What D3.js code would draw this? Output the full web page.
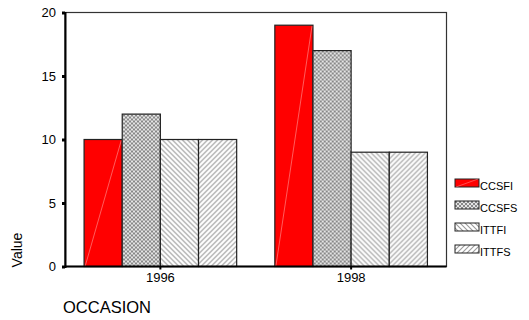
<!DOCTYPE html>
<html>
<head>
<meta charset="utf-8">
<script src="https://cdn.jsdelivr.net/npm/d3@7"></script>
<style>
  body { margin: 0; background: #fff; }
  text { font-family: "Liberation Sans", Arial, sans-serif; fill: #000; }
</style>
</head>
<body>
<svg id="chart" width="529" height="320"></svg>
<script>
const occasions = ['1996', '1998'];
const seriesNames = ['CCSFI', 'CCSFS', 'ITTFI', 'ITTFS'];
const CCSFI = [10, 19];
const CCSFS = [12, 17];
const ITTFI = [10, 9];
const ITTFS = [10, 9];
const yTicks = [0, 5, 10, 15, 20];

const seriesValues = [CCSFI, CCSFS, ITTFI, ITTFS];
const fills = ['#ff0000', 'url(#pCheck)', 'url(#pBack)', 'url(#pFwd)'];

const svg = d3.select('#chart');
const margin = { top: 12.5, left: 65, right: 82.5, bottom: 53.5 };
const W = 529 - margin.left - margin.right;
const H = 320 - margin.top - margin.bottom;

// patterns
const defs = svg.append('defs');
let p = defs.append('pattern').attr('id', 'pCheck')
  .attr('patternUnits', 'userSpaceOnUse').attr('width', 4).attr('height', 4);
p.append('rect').attr('width', 4).attr('height', 4).attr('fill', '#e4e4e4');
p.append('rect').attr('x', 0).attr('y', 0).attr('width', 2).attr('height', 2).attr('fill', '#888');
p.append('rect').attr('x', 2).attr('y', 2).attr('width', 2).attr('height', 2).attr('fill', '#888');

p = defs.append('pattern').attr('id', 'pBack')
  .attr('patternUnits', 'userSpaceOnUse').attr('width', 5).attr('height', 5);
p.append('rect').attr('width', 5).attr('height', 5).attr('fill', '#fff');
p.append('path').attr('d', 'M-1,-1L6,6M-1,4L1,6M4,-1L6,1')
  .attr('stroke', '#9a9a9a').attr('stroke-width', 1.1);

p = defs.append('pattern').attr('id', 'pFwd')
  .attr('patternUnits', 'userSpaceOnUse').attr('width', 5).attr('height', 5);
p.append('rect').attr('width', 5).attr('height', 5).attr('fill', '#fff');
p.append('path').attr('d', 'M-1,6L6,-1M-1,1L1,-1M4,6L6,4')
  .attr('stroke', '#9a9a9a').attr('stroke-width', 1.1);

const g = svg.append('g').attr('transform', 'translate(' + margin.left + ',' + margin.top + ')');

const x0 = d3.scaleBand().domain(occasions).range([0, W]).padding(0);
const x1 = d3.scaleBand().domain(seriesNames).range([0, x0.bandwidth()])
  .paddingInner(0).paddingOuter(0.5);
const y = d3.scaleLinear().domain([0, 20]).range([H, 0]);

// frame
g.append('rect').attr('width', W).attr('height', H)
  .attr('fill', 'none').attr('stroke', '#333').attr('stroke-width', 1.2);

// bars
const groups = g.selectAll('.grp').data(occasions).enter().append('g')
  .attr('transform', d => 'translate(' + x0(d) + ',0)');

groups.each(function (occ, oi) {
  const grp = d3.select(this);
  seriesNames.forEach((s, si) => {
    const v = seriesValues[si][oi];
    grp.append('rect')
      .attr('x', x1(s))
      .attr('y', y(v))
      .attr('width', x1.bandwidth())
      .attr('height', H - y(v))
      .attr('fill', fills[si])
      .attr('stroke', '#222')
      .attr('stroke-width', 1.2);
    if (si === 0) {
      grp.append('line')
        .attr('x1', x1(s) + 1).attr('y1', H)
        .attr('x2', x1(s) + x1.bandwidth() - 1).attr('y2', y(v) + 1)
        .attr('stroke', '#ff9a9a').attr('stroke-width', 0.6);
    }
  });
});

// y axis
const yAxis = g.append('g').call(d3.axisLeft(y).tickValues(yTicks).tickSize(3).tickPadding(6));
yAxis.select('.domain').attr('stroke', '#000').attr('stroke-width', 2);
yAxis.selectAll('.tick line').attr('stroke', '#000').attr('stroke-width', 3);
yAxis.selectAll('text').attr('font-size', 13).attr('font-family', '"Liberation Sans", Arial, sans-serif');

// x axis
const xAxis = g.append('g').attr('transform', 'translate(0,' + H + ')')
  .call(d3.axisBottom(x0).tickSize(3).tickPadding(3));
xAxis.select('.domain').attr('stroke', '#000').attr('stroke-width', 2).attr('d', 'M0,0H' + W);
xAxis.selectAll('.tick line').attr('stroke', '#000').attr('stroke-width', 2);
xAxis.selectAll('text').attr('font-size', 13).attr('font-family', '"Liberation Sans", Arial, sans-serif');

// axis titles
svg.append('text')
  .attr('transform', 'translate(22,250) rotate(-90)')
  .attr('text-anchor', 'middle')
  .attr('font-size', 14)
  .text('Value');

svg.append('text')
  .attr('x', 63).attr('y', 313)
  .attr('font-size', 16.5)
  .text('OCCASION');

// legend
const legend = svg.append('g').attr('transform', 'translate(455,179)');
seriesNames.forEach((s, i) => {
  const row = legend.append('g').attr('transform', 'translate(0,' + (i * 22) + ')');
  row.append('rect').attr('width', 24).attr('height', 8)
    .attr('fill', fills[i]).attr('stroke', '#222').attr('stroke-width', 1);
  if (i === 0) {
    row.append('line').attr('x1', 1).attr('y1', 8).attr('x2', 23).attr('y2', 0)
      .attr('stroke', '#ff9a9a').attr('stroke-width', 0.5);
  }
  row.append('text').attr('x', 25).attr('y', 10.5)
    .attr('font-size', 11).text(s);
});
</script>
</body>
</html>
